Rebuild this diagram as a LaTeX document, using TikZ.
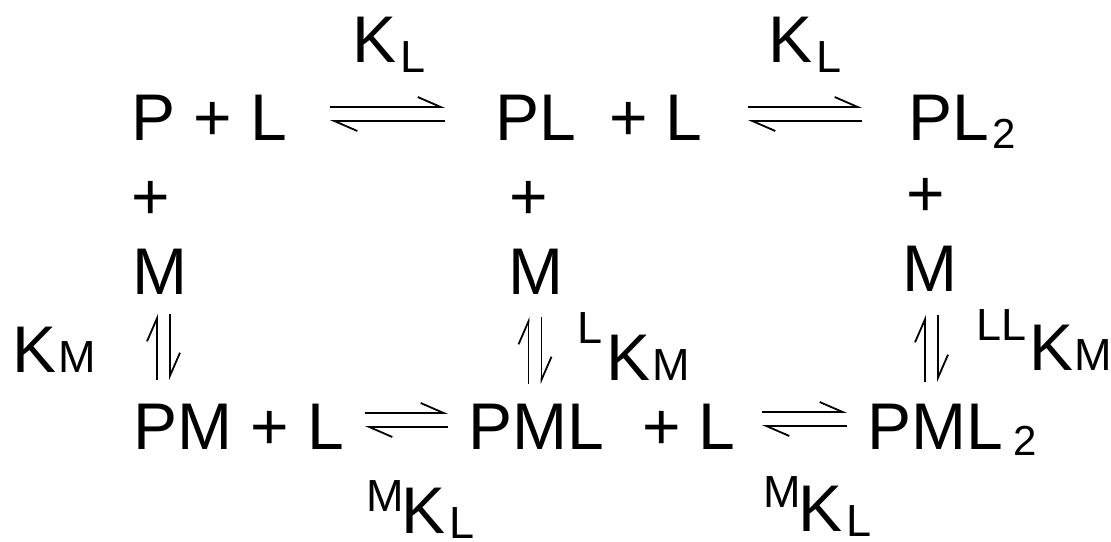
\documentclass[tikz,border=0pt]{standalone}
\usepackage{fontspec}
\setmainfont{Liberation Sans}
\usepackage{tikz}
\usetikzlibrary{arrows.meta}
\newcommand{\smallsz}{\fontsize{22.5}{27}\selectfont}
\newcommand{\lsub}[2]{\raisebox{#1}{\smallsz #2}}
\newcommand{\lpre}[2]{\raisebox{#1}{\smallsz #2}}
\newcommand{\idx}[2]{\raisebox{#1}{\fontsize{21}{25}\selectfont 2}}

\begin{document}
\begin{tikzpicture}[
  x=0.5pt, y=-0.5pt,
  species/.style = {anchor=base west, inner sep=0pt, outer sep=0pt,
                    font=\fontsize{33}{40}\selectfont},
  harp/.style = {-{Straight Barb[left, length=11.5pt, width=10pt]}, line width=0.9pt}
]
\useasboundingbox (0,0) rectangle (1111,541);

% top row
\node[species] (pl)     at (131,140) {P + L};
\node[species] (plb)    at (495,140) {PL};
\node[species] (plusLa) at (609,140) {+ L};
\node[species] (pl2)    at (908,140) {PL\hspace{2pt}\idx{-4pt}{2}};

% plus and M rows
\node[species] (plusA) at (131,219) {+};
\node[species] (plusB) at (509,219) {+};
\node[species] (plusC) at (906,216) {+};
\node[species] (mA)    at (132,294) {M};
\node[species] (mB)    at (508,294) {M};
\node[species] (mC)    at (902,291) {M};

% bottom row
\node[species] (pm)     at (133,449) {PM + L};
\node[species] (pml)    at (468,449) {PML};
\node[species] (plusLb) at (642,449) {+ L};
\node[species] (pml2)   at (867,449) {PML\hspace{5.5pt}\idx{-3pt}{2}};

% constants
\node[species] (kl1)  at (352,62)  {K\hspace{2pt}\lsub{-5pt}{L}};
\node[species] (kl2)  at (768,62)  {K\hspace{2pt}\lsub{-5pt}{L}};
\node[species] (km)   at (12,372)  {K\hspace{1pt}{\smallsz M}};
\node[species] (lkm)  at (577,380) {\lpre{18.5pt}{L}\hspace{2pt}K\hspace{1pt}{\smallsz M}};
\node[species] (llkm) at (976,370) {\lpre{15pt}{LL}\hspace{1.5pt}K\hspace{0.5pt}{\smallsz M}};
\node[species] (mkl1) at (366,533) {\lpre{11pt}{M}\hspace{-1pt}K\hspace{2pt}\lsub{-2.5pt}{L}};
\node[species] (mkl2) at (763,531) {\lpre{12pt}{M}\hspace{-1pt}K\hspace{2pt}\lsub{-2.5pt}{L}};

% harpoon ends
\coordinate (e1l) at (330,114);  \coordinate (e1r) at (445,114);
\coordinate (e2l) at (748,114);  \coordinate (e2r) at (862,114);
\coordinate (e3l) at (365,420);  \coordinate (e3r) at (448,420);
\coordinate (e4l) at (762,419);  \coordinate (e4r) at (847,419);
\coordinate (v1t) at (163.5,314); \coordinate (v1b) at (163.5,380);
\coordinate (v2t) at (535,317);   \coordinate (v2b) at (535,384);
\coordinate (v3t) at (931.5,315); \coordinate (v3b) at (931.5,382);

\foreach \a/\b in {e1l/e1r, e2l/e2r, e3l/e3r, e4l/e4r}{
  \draw[harp] ([yshift=3.5pt]\a) -- ([yshift=3.5pt]\b);
  \draw[harp] ([yshift=-3.5pt]\b) -- ([yshift=-3.5pt]\a);
}
\foreach \a/\b in {v1t/v1b, v2t/v2b, v3t/v3b}{
  \draw[harp] ([xshift=-3.25pt]\b) -- ([xshift=-3.25pt]\a);
  \draw[harp] ([xshift=3.25pt]\a) -- ([xshift=3.25pt]\b);
}

\end{tikzpicture}
\end{document}
